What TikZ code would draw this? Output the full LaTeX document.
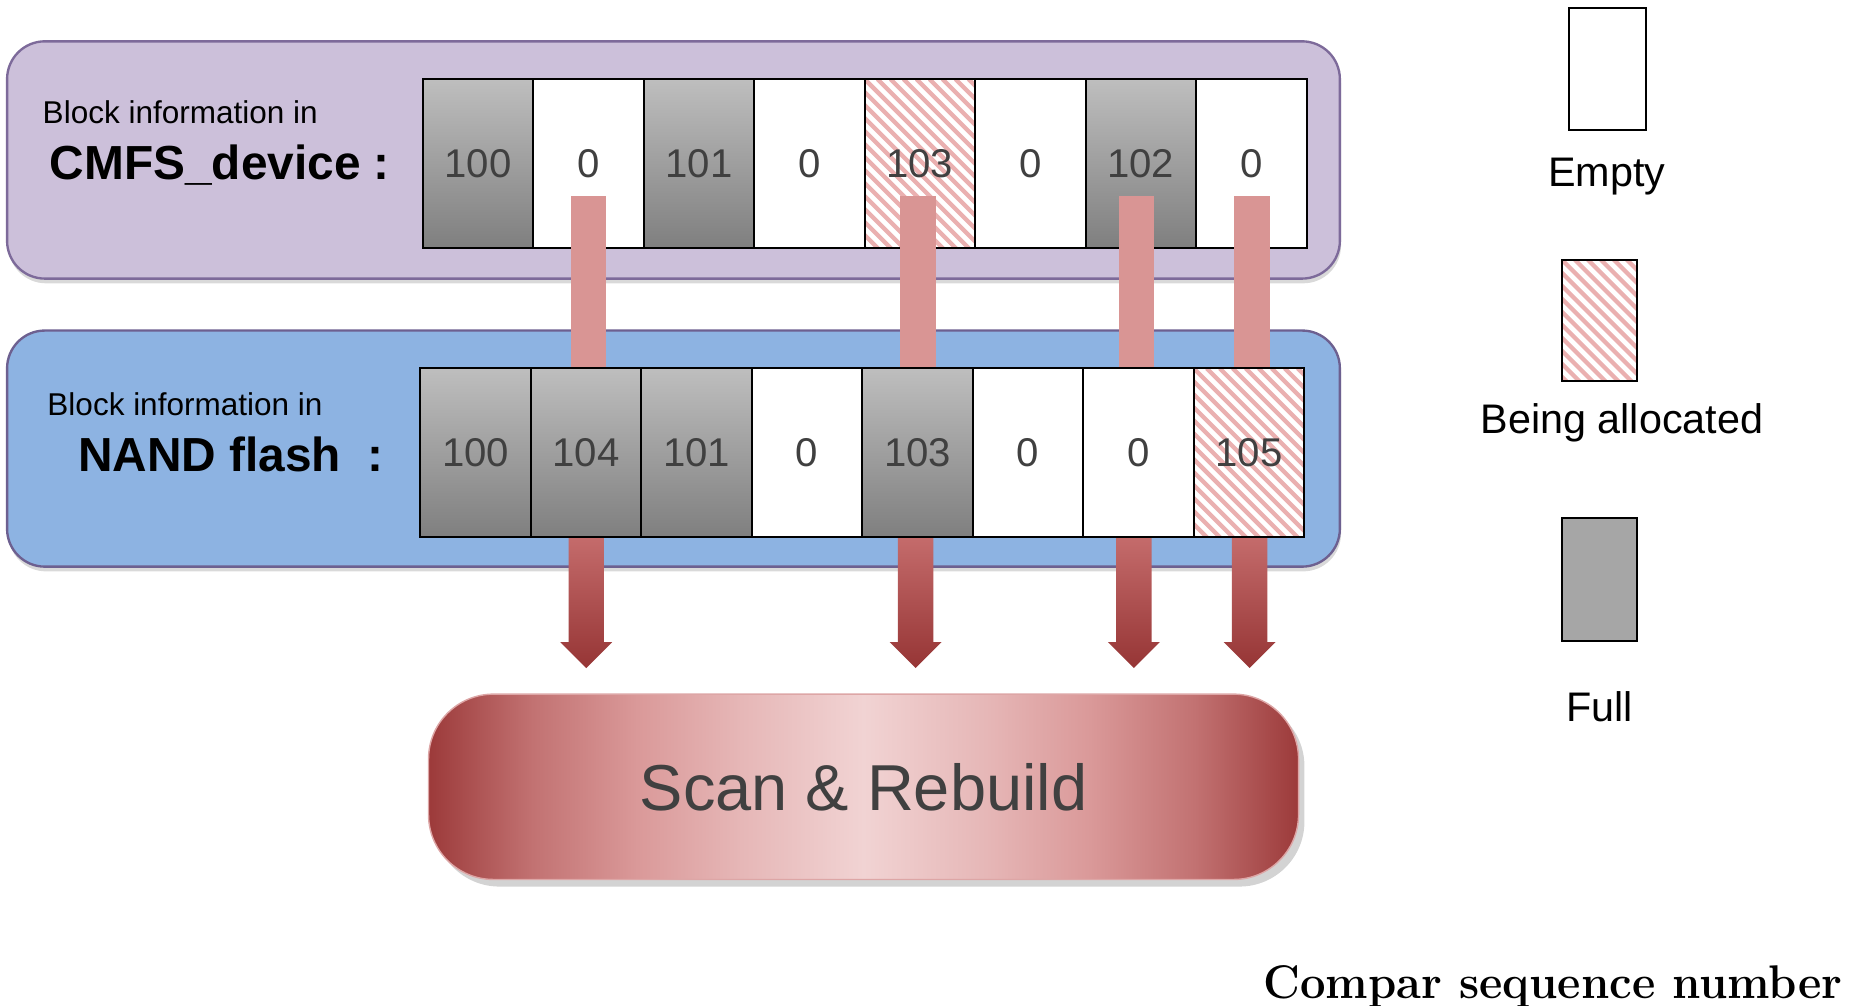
\documentclass[tikz,border=0pt]{standalone}
\usepackage{fontspec}
\setsansfont{Liberation Sans}
\renewcommand{\familydefault}{\sfdefault}
\usetikzlibrary{calc,shadows}

\definecolor{devfill}{HTML}{CCC0DA}
\definecolor{devline}{HTML}{7D6A9A}
\definecolor{nandfill}{HTML}{8DB3E2}
\definecolor{nandline}{HTML}{6D6090}
\definecolor{barpink}{HTML}{D99594}
\definecolor{stripecol}{HTML}{EAB0B0}
\definecolor{numgray}{HTML}{404040}
\definecolor{arrtop}{HTML}{C46B6B}
\definecolor{arrbot}{HTML}{963535}
\definecolor{cellhi}{HTML}{BEBEBE}
\definecolor{celllo}{HTML}{7F7F7F}
\definecolor{legfull}{HTML}{A6A6A6}
\definecolor{rA}{HTML}{9C3A3A}
\definecolor{rB}{HTML}{C27272}
\definecolor{rC}{HTML}{DA9999}
\definecolor{rE}{HTML}{E6B7B7}
\definecolor{rD}{HTML}{F1D3D3}
\definecolor{rLine}{HTML}{DDA6A6}

% light centre, dark red ends
\pgfdeclarehorizontalshading{rebuild}{100bp}{color(0bp)=(rA); color(25bp)=(rA);
  color(31bp)=(rB); color(37bp)=(rC); color(43bp)=(rE); color(50bp)=(rD);
  color(57bp)=(rE); color(63bp)=(rC); color(69bp)=(rB); color(75bp)=(rA);
  color(100bp)=(rA)}

\newcommand{\setfs}[1]{\fontsize{#1}{#1}\selectfont}

\tikzset{
  panel/.style={rounded corners=32pt, line width=2pt, minimum width=1129pt,
    minimum height=201pt, inner sep=0pt,
    drop shadow={opacity=0.3, shadow xshift=1pt, shadow yshift=-4pt}},
  cellbase/.style={draw=black, line width=1.8pt, minimum width=93.6pt,
    minimum height=143pt, inner sep=0pt, text=numgray, font=\setfs{34}},
  fullcell/.style={cellbase, top color=cellhi, bottom color=celllo},
  emptycell/.style={cellbase, fill=white},
  alloccell/.style={cellbase, fill=white, path picture={
      \foreach \k in {-16,...,10}
        \draw[stripecol, line width=3.6pt]
          ([xshift=\k*11pt]path picture bounding box.north west) -- ++(170pt,-170pt);}},
  barfill/.style={fill=barpink},
  arrowfill/.style={top color=arrtop, bottom color=arrbot},
  labsmall/.style={anchor=base west, inner sep=0pt, font=\setfs{26.7}},
  labbig/.style={anchor=base west, inner sep=0pt, font=\bfseries\setfs{40.5}},
  legtext/.style={anchor=base, inner sep=0pt, font=\setfs{35}},
  rebuildbox/.style={shading=rebuild, draw=rLine, line width=1.2pt,
    rounded corners=55pt, minimum width=737pt, minimum height=157pt,
    text=numgray, font=\setfs{55},
    drop shadow={opacity=0.35, shadow xshift=5pt, shadow yshift=-6pt}}
}

\begin{document}
\begin{tikzpicture}[x=1pt, y=-1pt]
\useasboundingbox (0,0) rectangle (1568,852);

% the two panels
\node[panel, fill=devfill, draw=devline] (dev) at (570.5,135.5) {};
\node[panel, fill=nandfill, draw=nandline, minimum height=200pt] (nand) at (570.5,380) {};

% panel captions
\node[labsmall] (devcap) at (36,105) {Block information in};
\node[labbig] (devname) at (42,152) {CMFS\_device :};
\node[labsmall] (nandcap) at (40,352) {Block information in};
\node[labbig] (nandname) at (66,399) {NAND flash};
\node[anchor=base, inner sep=0pt, font=\bfseries\setfs{40.5}] (nandcolon) at (318,399) {:};

% block table kept by the device
\foreach \s/\v [count=\i] in {fullcell/100, emptycell/0, fullcell/101, emptycell/0,
    alloccell/103, emptycell/0, fullcell/102, emptycell/0}
  \node[\s] (t\i) at ({358+93.6*(\i-0.5)},138.5) {\v};

% bars from the device table down to the top edge of the flash table
\foreach \k/\dx in {2/0, 5/-1.6, 7/-3.9, 8/0.5}
  \fill[barfill] ($(t\k.center)+(\dx-15,27.5)$) rectangle ($(t\k.center)+(\dx+15,173.5)$);

% block table stored in flash
\foreach \s/\v [count=\i] in {fullcell/100, fullcell/104, fullcell/101, emptycell/0,
    fullcell/103, emptycell/0, emptycell/0, alloccell/105}
  \node[\s] (b\i) at ({356+93.6*(\i-0.5)},383.5) {\v};

% scan & rebuild stage
\node[rebuildbox] (scan) at (731.5,666.5) {Scan \& Rebuild};

% arrows from the flash table into the scan stage
\foreach \k/\dx in {2/0.2, 5/-1.6, 7/-3.9, 8/0.5} {
  \coordinate (a\k) at ($(b\k.south)+(\dx,0)$);
  \shade[arrowfill] ($(a\k)+(-15,0)$) -- ($(a\k)+(-15,88)$) -- ($(a\k)+(-22,88)$)
    -- ($(a\k)+(0,110)$) -- ($(a\k)+(22,88)$) -- ($(a\k)+(15,88)$)
    -- ($(a\k)+(15,0)$) -- cycle;
}

% legend
\node[emptycell, minimum width=65pt, minimum height=103pt] (legE) at (1361.5,58.5) {};
\node[legtext] (legEt) at (1361,158) {Empty};
\node[alloccell, minimum width=64pt, minimum height=103pt] (legA) at (1355,271.5) {};
\node[legtext] (legAt) at (1374,367) {Being allocated};
\node[cellbase, fill=legfull, minimum width=64pt, minimum height=104pt] (legF) at (1355,491) {};
\node[legtext] (legFt) at (1355,611) {Full};

% caption
\node[anchor=base east, inner sep=0pt, font=\rmfamily\bfseries\setfs{40}] (cmp) at (1561,846)
  {\scalebox{0.96}[1]{Compar sequence number}};
\end{tikzpicture}
\end{document}
